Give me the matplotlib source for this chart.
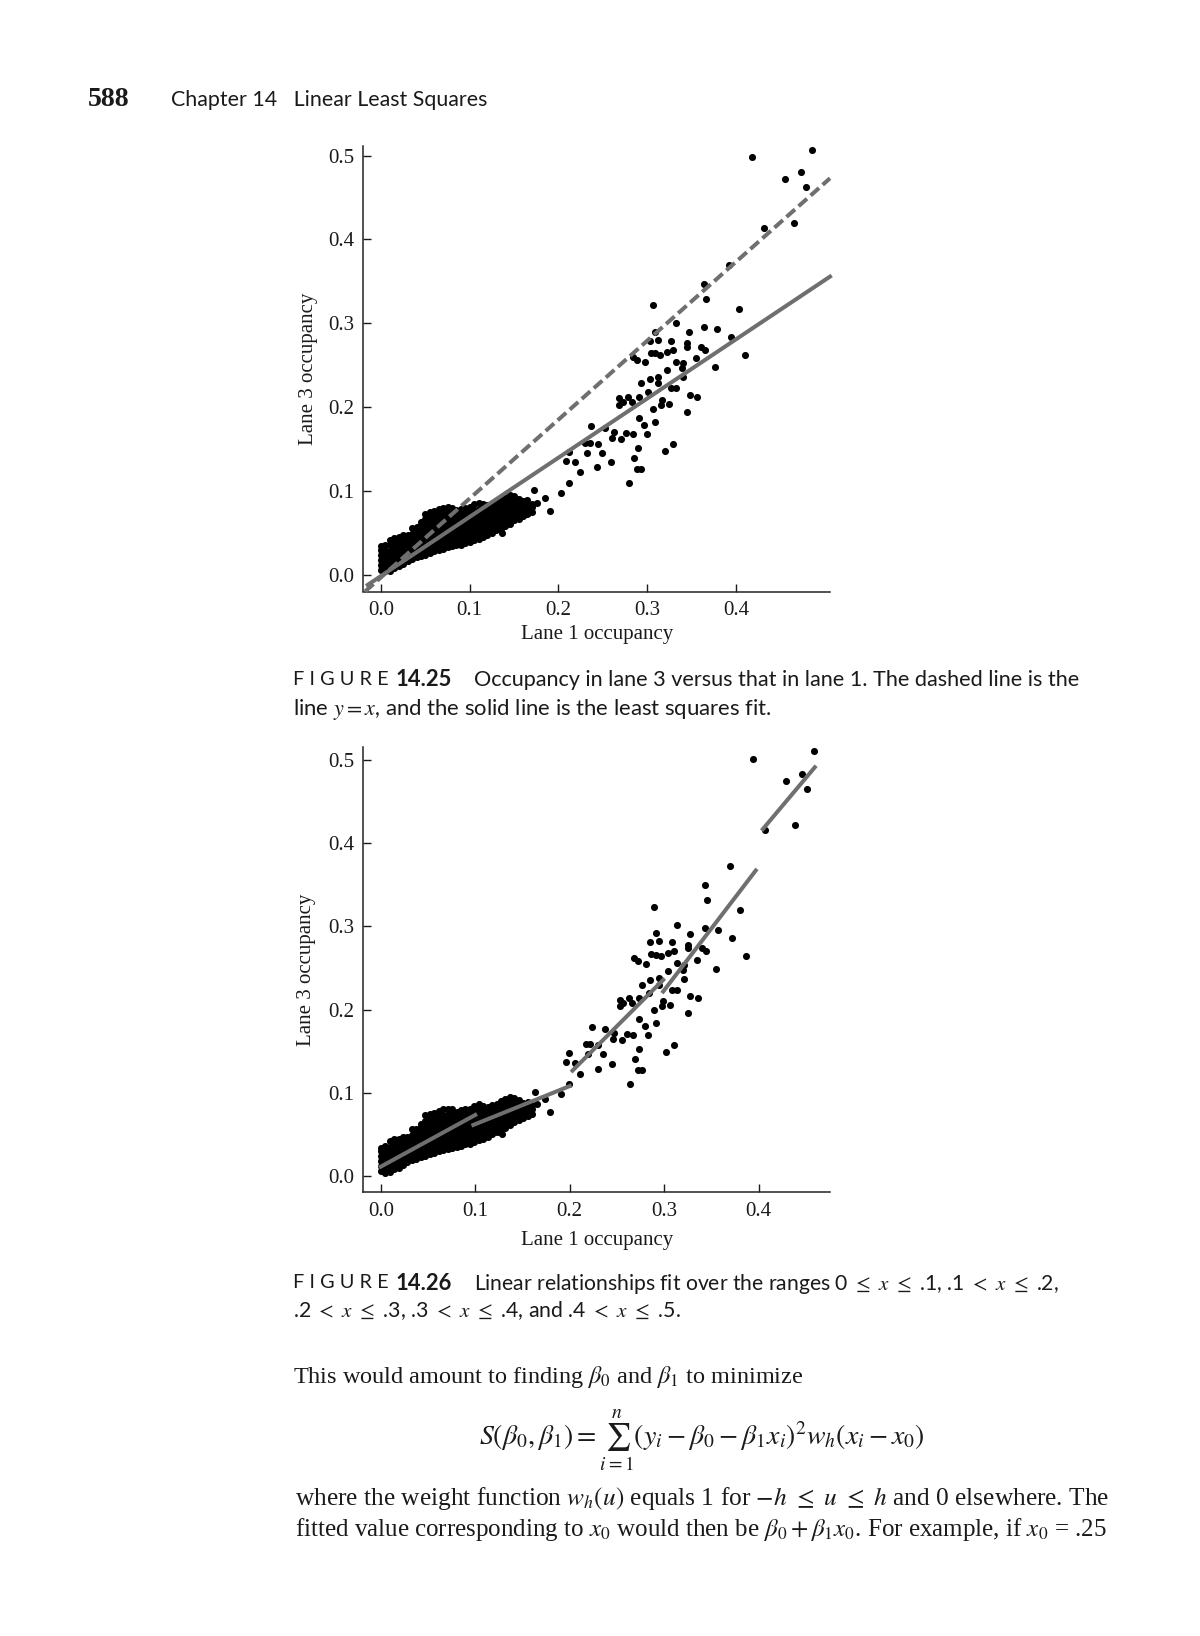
import matplotlib
matplotlib.use("Agg")
import matplotlib.pyplot as plt

W, H = 1200, 1636
plt.rcParams['font.family'] = ['Liberation Serif', 'DejaVu Sans']
plt.rcParams['mathtext.fontset'] = 'stix'

# ---------------- data ----------------
x_ticks_labels = ['0.0', '0.1', '0.2', '0.3', '0.4']
y_ticks_labels = ['0.0', '0.1', '0.2', '0.3', '0.4', '0.5']
x_ticks = [0.0, 0.1, 0.2, 0.3, 0.4]
y_ticks = [0.0, 0.1, 0.2, 0.3, 0.4, 0.5]

sparse_x_top = [.4185,.486,.455,.473,.479,.4314,.465,.392,.3638,.366,.3066,.403,.333,.3638,.379,.347,.3087,.394,.3026,.312,
 .3268,.345,.361,.345,.365,.355,.4105,.2845,.2885,.2974,.3038,.3087,.3147,.3227,.3288,.3328,.3408,.3759,.3227,.3388,
 .3408,.3127,.3026,.2934,.3127,.3268,.3328,.3006,.3477,.3561,.2905,.2785,.2684,.2724,.2825,.2684,.3066,.3167,.3159,.3248,
 .3449,.2905,.3087,.2966,.2998,.237,.2523,.2624,.2604,.2704,.2765,.2837,.2897,.3288,.3199,.2302,.2354,.2443,.2113,.2322,
 .2495,.208,.2181,.2592,.2853,.2241,.2435,.2885,.2934,.2113,.2793,.2028,.1726,.1847,.1899,.1759,.1658,.1364]
sparse_y_top = [.498,.5068,.472,.4805,.462,.4137,.4197,.370,.347,.329,.3215,.317,.300,.296,.2933,.2897,.290,.284,.2794,.280,
 .279,.276,.272,.272,.268,.2587,.2623,.2603,.2564,.2536,.265,.264,.2623,.2663,.2683,.2544,.2524,.2476,.2444,.2464,
 .2357,.2365,.2333,.2285,.2285,.2226,.2226,.2186,.2146,.2126,.2126,.2126,.2107,.2067,.2067,.2027,.1975,.2087,.2027,.2035,
 .1948,.1868,.1828,.1789,.1681,.1777,.1757,.1709,.163,.1618,.169,.1681,.1518,.1562,.1482,.157,.1578,.1562,.147,.145,
 .1459,.1363,.1351,.1343,.1391,.1224,.1284,.1264,.1264,.1093,.1101,.0974,.1006,.0914,.0763,.0855,.0735,.0497]

sparse_x_bottom = [.3946,.4583,.4291,.446,.4517,.4068,.4385,.3697,.3431,.3451,.2891,.38,.314,.3431,.3574,.3272,.2911,.3715,.2853,.2942,
 .3082,.3253,.3404,.3253,.3442,.3348,.3871,.2683,.2721,.2804,.2865,.2911,.2968,.3043,.3101,.3138,.3214,.3545,.3043,.3195,
 .3214,.2949,.2853,.2767,.2949,.3082,.3138,.2835,.3279,.3358,.2739,.2626,.2531,.2569,.2664,.2531,.2891,.2986,.2979,.3063,
 .3252,.2739,.2911,.2797,.2827,.2235,.2379,.2474,.2456,.255,.2607,.2675,.2732,.3101,.3017,.2171,.222,.2304,.1993,.219,
 .2353,.1961,.2057,.2444,.269,.2113,.2296,.2721,.2767,.1993,.2634,.1912,.1628,.1742,.1791,.1659,.1563,.1286]
sparse_y_bottom = [.501,.510,.475,.483,.465,.416,.422,.372,.349,.331,.323,.319,.302,.298,.295,.291,.292,.286,.281,.282,
 .281,.278,.274,.274,.27,.26,.264,.262,.258,.255,.267,.266,.264,.268,.27,.256,.254,.249,.246,.248,
 .237,.238,.235,.23,.23,.224,.224,.22,.216,.214,.214,.214,.212,.208,.208,.204,.199,.21,.204,.205,
 .196,.188,.184,.18,.169,.179,.177,.172,.164,.163,.17,.169,.153,.157,.149,.158,.159,.157,.148,.146,
 .147,.137,.136,.135,.14,.123,.129,.127,.127,.11,.111,.098,.101,.092,.077,.086,.074,.05]

dense_x_top = [.000,.005,.010,.015,.020,.025,.030,.035,.040,.045,.050,.055,.060,.065,.070,.075,.080,.085,
               .090,.095,.100,.105,.110,.115,.120,.125,.130,.135,.140,.145,.150,.155,.160,.165,.170]
dense_x_bottom = [.000,.0047,.0094,.0141,.0189,.0236,.0283,.033,.0377,.0424,.0472,.0519,.0566,.0613,.066,.0707,.0754,.0802,
                  .0849,.0896,.0943,.099,.1037,.1084,.1132,.1179,.1226,.1273,.132,.1367,.1415,.1462,.1509,.1556,.1603]
dense_y = [
 [.006,.012,.018,.024,.030,.034],
 [.004,.010,.016,.022,.028,.034,.036],
 [.005,.011,.017,.023,.029,.035,.042],
 [.008,.014,.020,.026,.032,.038,.044],
 [.010,.016,.022,.028,.034,.040,.045],
 [.013,.019,.025,.031,.037,.043,.047],
 [.017,.023,.029,.035,.041,.047],
 [.019,.025,.031,.037,.043,.049,.056],
 [.021,.027,.033,.039,.045,.051,.057],
 [.023,.029,.035,.041,.047,.053,.059,.063],
 [.024,.030,.036,.042,.048,.054,.060,.066,.073],
 [.026,.032,.038,.044,.050,.056,.062,.068,.075],
 [.028,.034,.040,.046,.052,.058,.064,.070,.076],
 [.030,.036,.042,.048,.054,.060,.066,.072,.078],
 [.031,.037,.043,.049,.055,.061,.067,.073,.080],
 [.033,.039,.045,.051,.057,.063,.069,.075,.081],
 [.034,.040,.046,.052,.058,.064,.070,.076,.080],
 [.035,.041,.047,.053,.059,.065,.071,.077],
 [.036,.042,.048,.054,.060,.066,.072,.079],
 [.038,.044,.050,.056,.062,.068,.074,.080],
 [.039,.045,.051,.057,.063,.069,.075,.081],
 [.041,.047,.053,.059,.065,.071,.077,.084],
 [.043,.049,.055,.061,.067,.073,.079,.086],
 [.045,.051,.057,.063,.069,.075,.081,.084],
 [.047,.053,.059,.065,.071,.077,.083],
 [.050,.056,.062,.068,.074,.080,.085],
 [.053,.059,.065,.071,.077,.083,.087],
 [.055,.061,.067,.073,.079,.085,.090],
 [.058,.064,.070,.076,.082,.088,.093],
 [.061,.067,.073,.079,.085,.091,.095],
 [.065,.071,.077,.083,.089,.094],
 [.067,.073,.079,.085,.091],
 [.070,.076,.082,.088],
 [.072,.078,.084,.089],
 [.075,.081,.085],
]

dashed_x = [-.018, .506]
dashed_y = [-.0199, .473]
solid_x = [-.015, .506]
solid_y = [-.012, .3557]

segments_x = [[0.0, .1], [.098, .2], [.203, .299], [.299, .397], [.4045, .4595]]
segments_y = [[.0112, .0733], [.0613, .108], [.1266, .2356], [.2216, .367], [.4167, .491]]

xlabel_text = 'Lane 1 occupancy'
ylabel_text = 'Lane 3 occupancy'

# ---------------- page ----------------
fig = plt.figure(figsize=(W / 100, H / 100), dpi=100, facecolor='white')
GRAY = '#6f6f6f'
TXT = '#1a1a1a'


def px_axes(left, right, top, bottom):
    return fig.add_axes([left / W, 1 - bottom / H, (right - left) / W, (bottom - top) / H])


def style(ax, xlim, ylim):
    ax.set_xlim(*xlim)
    ax.set_ylim(*ylim)
    ax.patch.set_alpha(0)
    for s in ('top', 'right'):
        ax.spines[s].set_visible(False)
    for s in ('left', 'bottom'):
        ax.spines[s].set_linewidth(1.1)
        ax.spines[s].set_color('#222222')
    ax.set_xticks(x_ticks, x_ticks_labels)
    ax.set_yticks(y_ticks, y_ticks_labels)
    ax.tick_params(axis='x', direction='in', length=6, width=1.0, pad=7, labelsize=15, colors=TXT)
    ax.tick_params(axis='y', direction='in', length=6, width=1.0, pad=6, labelsize=15, colors=TXT)
    ax.set_xlabel(xlabel_text, fontsize=15, color=TXT)
    ax.set_ylabel(ylabel_text, fontsize=15, color=TXT)


def points(ax, sx, sy, col_x):
    ax.scatter(sx, sy, s=26, c='black', marker='o', linewidths=0, clip_on=False, zorder=2)
    for x, ys in zip(col_x, dense_y):
        ax.scatter([x] * len(ys), ys, s=26, c='black', marker='o', linewidths=0, zorder=2)


ax1 = px_axes(363, 830, 146, 591.5)
style(ax1, (-.0203, .506), (-.0199, .5115))
points(ax1, sparse_x_top, sparse_y_top, dense_x_top)
ax1.plot(dashed_x, dashed_y, color=GRAY, lw=2.9, dashes=(2.8, 1.2), zorder=3, clip_on=False)
ax1.plot(solid_x, solid_y, color=GRAY, lw=2.9, zorder=3, clip_on=False)
ax1.xaxis.set_label_coords((597 - 363) / 467, -(625 - 591.5) / 445.5)
ax1.yaxis.set_label_coords(-(363 - 318) / 467, (591.5 - 369) / 445.5)

ax2 = px_axes(363, 830, 747.3, 1192.3)
style(ax2, (-.0188, .4756), (-.0196, .515))
points(ax2, sparse_x_bottom, sparse_y_bottom, dense_x_bottom)
for sx, sy in zip(segments_x, segments_y):
    ax2.plot(sx, sy, color=GRAY, lw=2.9, zorder=3)
ax2.xaxis.set_label_coords((597 - 363) / 467, -(1231.5 - 1192.3) / 445)
ax2.yaxis.set_label_coords(-(363 - 316) / 467, (1192.3 - 970) / 445)

renderer = fig.canvas.get_renderer()


def fit(x0, x1, yc, s, size=14, **kw):
    """Place text from x0 to x1 (page pixels), vertically centred at yc."""
    kw.setdefault('color', TXT)
    t = fig.text(x0 / W, 1 - yc / H, s, fontsize=size, ha='left', va='center_baseline', **kw)
    w = t.get_window_extent(renderer).width
    t.set_fontsize(size * (x1 - x0) / w)
    return t


SANS = ['Lato', 'DejaVu Sans']
SERIF = ['Liberation Serif', 'DejaVu Sans']

fit(88, 130, 97, '588', size=16, family=SERIF, fontweight='bold')
fit(171, 488, 98, 'Chapter 14   Linear Least Squares', size=15, family=SANS)

fit(293, 388, 678, 'F I G U R E', size=13, family=SANS)
fit(396, 452, 678, '14.25', size=13, family=SANS, fontweight='bold')
fit(474, 1082, 678, 'Occupancy in lane 3 versus that in lane 1. The dashed line is the', size=15, family=SANS)
fit(293, 774, 706, r'line $y=x$, and the solid line is the least squares fit.', size=15, family=SANS)

fit(293, 388, 1281.5, 'F I G U R E', size=13, family=SANS)
fit(396, 452, 1281.5, '14.26', size=13, family=SANS, fontweight='bold')
fit(474, 1059, 1281.5, r'Linear relationships fit over the ranges 0 $\leq$ $x$ $\leq$ .1, .1 $<$ $x$ $\leq$ .2,', size=15, family=SANS)
fit(293, 683, 1308.5, r'.2 $<$ $x$ $\leq$ .3, .3 $<$ $x$ $\leq$ .4, and .4 $<$ $x$ $\leq$ .5.', size=15, family=SANS)

fit(293, 805, 1373, r'This would amount to finding $\beta_0$ and $\beta_1$ to minimize', size=16, family=SERIF)
fit(479, 927, 1427,
    r'$S(\beta_0,\beta_1)=\sum_{i=1}^{n}(y_i-\beta_0-\beta_1 x_i)^2 w_h(x_i-x_0)$',
    size=16, family=SERIF)
fit(295, 1110, 1495.5, r'where the weight function $w_h(u)$ equals 1 for $-h$ $\leq$ $u$ $\leq$ $h$ and 0 elsewhere. The', size=16, family=SERIF)
fit(295, 1108, 1526, r'fitted value corresponding to $x_0$ would then be $\beta_0+\beta_1 x_0$. For example, if $x_0$ = .25', size=16, family=SERIF)

fig.savefig('out.png', dpi=100, facecolor='white')
